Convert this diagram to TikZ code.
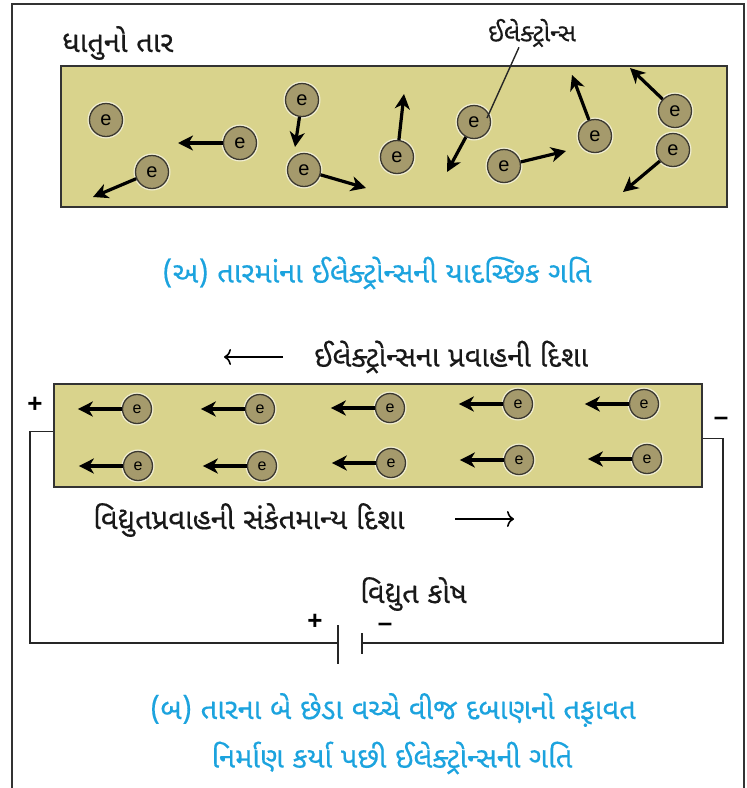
\documentclass[tikz,border=0pt]{standalone}
\usepackage{fontspec}
\setmainfont{Liberation Sans}
\newfontfamily\guj[Script=Gujarati, FakeBold=0.4]{Noto Sans Gujarati UI}
\usepackage{tikz}
\usetikzlibrary{shapes.geometric, arrows.meta, positioning}
\definecolor{wirefill}{HTML}{D9D38C}
\definecolor{ballfill}{HTML}{A59A6C}
\definecolor{ballline}{HTML}{3B3830}
\definecolor{capcyan}{HTML}{1CA3DE}
\tikzstyle{wire} = [rectangle, draw=black!80, line width=1.8pt, fill=wirefill, inner sep=0pt, anchor=north west]
\tikzstyle{electron} = [circle, draw=ballline, line width=1.3pt, fill=ballfill, minimum size=33pt, inner sep=0pt, font=\fontsize{20}{20}\selectfont, preaction={draw=wirefill!40, line width=4pt}]
\tikzstyle{small electron} = [electron, minimum size=29pt, font=\fontsize{16}{16}\selectfont]
\tikzstyle{arrow} = [line width=3.2pt, -{Stealth[length=15pt, width=15pt, inset=4.5pt]}]
\tikzstyle{thin arrow} = [line width=1.6pt, -{To[length=7pt, width=16pt]}]
\tikzstyle{gujtext} = [font=\guj\fontsize{29}{32}\selectfont, inner sep=0pt, text=black!90]
\tikzstyle{captext} = [font=\guj\fontsize{29}{32}\selectfont, inner sep=0pt, text=capcyan]
\tikzstyle{sign} = [font=\bfseries\fontsize{26}{26}\selectfont, inner sep=0pt]
\tikzstyle{circuit} = [line width=1.6pt, draw=black!85]

\begin{document}
\begin{tikzpicture}[x=1pt, y=-1pt]
	\useasboundingbox (0,0) rectangle (747,788);
	\draw[line width=1.4pt, black!80] (12,788) -- (12,4) -- (744,4) -- (744,788);

	% metal wire, electrons moving at random
	\node[gujtext, anchor=west] (metal) at (62,43) {ધાતુનો તાર};
	\node[wire, minimum width=666pt, minimum height=141pt] (wire1) at (60,65) {};
	\node[electron] (e1) at (106,120) {e};
	\node[electron] (e2) at (240,143) {e};
	\node[electron] (e3) at (152,172) {e};
	\node[electron] (e4) at (302,100) {e};
	\node[electron] (e5) at (304,170) {e};
	\node[electron] (e6) at (397,157) {e};
	\node[electron] (e7) at (474,122) {e};
	\node[electron] (e8) at (504,166) {e};
	\node[electron] (e9) at (595,136) {e};
	\node[electron] (e10) at (675,111) {e};
	\node[electron] (e11) at (673,150) {e};
	\coordinate (e2t) at (178,143);
	\coordinate (e3t) at (93,197);
	\coordinate (e4t) at (295,147);
	\coordinate (e5t) at (366,188);
	\coordinate (e6t) at (404,94);
	\coordinate (e7t) at (447,172);
	\coordinate (e8t) at (566,151);
	\coordinate (e9t) at (572,75);
	\coordinate (e10t) at (630,68);
	\coordinate (e11t) at (623,192);
	\draw[arrow] (e2) -- (e2t);
	\draw[arrow] (e3) -- (e3t);
	\draw[arrow] (e4) -- (e4t);
	\draw[arrow] (e5) -- (e5t);
	\draw[arrow] (e6) -- (e6t);
	\draw[arrow] (e7) -- (e7t);
	\draw[arrow] (e8) -- (e8t);
	\draw[arrow] (e9) -- (e9t);
	\draw[arrow] (e10) -- (e10t);
	\draw[arrow] (e11) -- (e11t);

	\node[gujtext, font=\guj\fontsize{25}{28}\selectfont] (elabel) at (532,33) {ઈલેક્ટ્રોન્સ};
	\coordinate (e7p) at (487,118);
	\draw[line width=1.4pt, black!85] ([xshift=-13pt]elabel.south) -- (e7p);

	\node[captext] (capA) at (377,273) {(અ) તારમાંના ઈલેક્ટ્રોન્સની યાદચ્છિક ગતિ};

	% wire joined to the cell, electrons drifting
	\node[gujtext, anchor=west] (flow) at (314,357) {ઈલેક્ટ્રોન્સના પ્રવાહની દિશા};
	\coordinate (fl1) at (283,357);
	\coordinate (fl2) at (224,357);
	\draw[thin arrow] (fl1) -- (fl2);

	\node[wire, minimum width=648pt, minimum height=103pt] (wire2) at (53,383) {};
	\node[small electron] (b1) at (137,409) {e};
	\node[small electron] (b2) at (260,409) {e};
	\node[small electron] (b3) at (390,408) {e};
	\node[small electron] (b4) at (518,404) {e};
	\node[small electron] (b5) at (644,404) {e};
	\node[small electron] (b6) at (138,466) {e};
	\node[small electron] (b7) at (262,466) {e};
	\node[small electron] (b8) at (391,463) {e};
	\node[small electron] (b9) at (519,460) {e};
	\node[small electron] (b10) at (647,459) {e};
	\coordinate[left=44pt of b1] (b1t);
	\coordinate[left=44pt of b2] (b2t);
	\coordinate[left=44pt of b3] (b3t);
	\coordinate[left=44pt of b4] (b4t);
	\coordinate[left=44pt of b5] (b5t);
	\coordinate[left=44pt of b6] (b6t);
	\coordinate[left=44pt of b7] (b7t);
	\coordinate[left=44pt of b8] (b8t);
	\coordinate[left=44pt of b9] (b9t);
	\coordinate[left=44pt of b10] (b10t);
	\draw[arrow] (b1) -- (b1t);
	\draw[arrow] (b2) -- (b2t);
	\draw[arrow] (b3) -- (b3t);
	\draw[arrow] (b4) -- (b4t);
	\draw[arrow] (b5) -- (b5t);
	\draw[arrow] (b6) -- (b6t);
	\draw[arrow] (b7) -- (b7t);
	\draw[arrow] (b8) -- (b8t);
	\draw[arrow] (b9) -- (b9t);
	\draw[arrow] (b10) -- (b10t);

	\node[sign] (plusw) at (35,405) {+};
	\node[sign] (minusw) at (721,421) {--};

	\node[gujtext, anchor=west] (current) at (93,520) {વિદ્યુતપ્રવાહની સંકેતમાન્ય દિશા};
	\coordinate (cu1) at (455,519);
	\coordinate (cu2) at (514,519);
	\draw[thin arrow] (cu1) -- (cu2);

	% circuit with the cell
	\coordinate (lc) at (30,643);
	\coordinate (rc) at (723,643);
	\coordinate (pos) at (338,643);
	\coordinate (neg) at (362,643);
	\draw[circuit] ([yshift=4pt]wire2.west) -| (lc) -- (pos);
	\draw[circuit] (neg) -- (rc) |- ([yshift=-3pt]wire2.east);
	\draw[circuit, line width=2pt] ([yshift=18pt]pos) -- ([yshift=-21pt]pos);
	\draw[circuit, line width=2pt] ([yshift=10pt]neg) -- ([yshift=-11pt]neg);
	\node[sign] (pluscell) at (315,622) {+};
	\node[sign] (minuscell) at (385,627) {--};
	\node[gujtext, anchor=west] (cell) at (360,594) {વિદ્યુત કોષ};

	\node[captext] (capB1) at (393,710) {(બ) તારના બે છેડા વચ્ચે વીજ દબાણનો તફ઼ાવત};
	\node[captext] (capB2) at (392,758) {નિર્માણ કર્યા પછી ઈલેક્ટ્રોન્સની ગતિ};
\end{tikzpicture}
\end{document}
